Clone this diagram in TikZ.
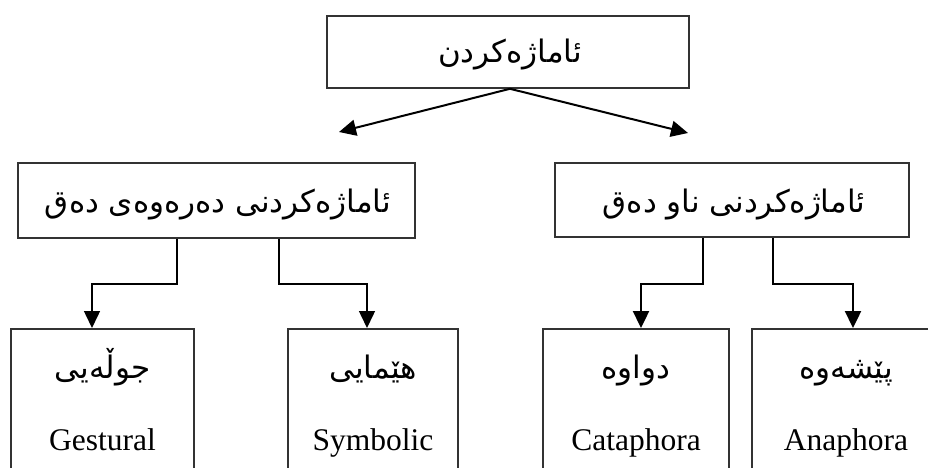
\documentclass[tikz,border=0pt]{standalone}
\usepackage{fontspec}
\setmainfont{Liberation Serif}
\newfontfamily\arabicfont[Script=Arabic]{DejaVu Sans}
\TeXXeTstate=1
\usetikzlibrary{arrows.meta,calc}
\tikzset{
  box/.style={draw=black!80, line width=1.6pt, inner sep=0pt},
  ar/.style={font=\arabicfont\fontsize{31}{35}\selectfont, inner sep=0pt},
  lat/.style={font=\fontsize{31.5}{35}\selectfont, inner sep=0pt, anchor=base},
  tip/.style={-{Triangle[width=16pt,length=17pt]}},
  thin conn/.style={tip, line width=1.5pt},
  thick conn/.style={tip, line width=2.4pt},
  diag/.style={tip, line width=2pt}
}
\begin{document}
\begin{tikzpicture}[x=1pt,y=-1pt]
\clip (0,0) rectangle (928,468);
\useasboundingbox (0,0) rectangle (928,468);
% top box
\node[box, minimum width=362pt, minimum height=72pt] (top) at (508,52) {};
\node[ar, anchor=base] (toptxt) at (510,63) {\beginR ئاماژەکردن\endR};
% middle boxes
\node[box, minimum width=397pt, minimum height=75pt] (lm) at (216.5,200.5) {};
\node[ar, anchor=base] (lmtxt) at (218,212) {\beginR ئاماژەکردنی دەرەوەی دەق\endR};
\node[box, minimum width=354pt, minimum height=74pt] (rm) at (732,200) {};
\node[ar, anchor=base] (rmtxt) at (734,212) {\beginR ئاماژەکردنی ناو دەق\endR};
% bottom boxes
\node[box, minimum width=183pt, minimum height=160pt, anchor=north] (b1) at (102.5,328) {};
\node[box, minimum width=170pt, minimum height=160pt, anchor=north] (b2) at (373,328) {};
\node[box, minimum width=186pt, minimum height=160pt, anchor=north] (b3) at (636,328) {};
\node[box, minimum width=188pt, minimum height=160pt, anchor=north] (b4) at (846,328) {};
\node[ar, anchor=base] (b1a) at ([yshift=-50pt]b1.north) {\beginR جوڵەیی\endR};
\node[ar, anchor=base] (b2a) at ([yshift=-50pt]b2.north) {\beginR هێمایی\endR};
\node[ar, anchor=base] (b3a) at ([yshift=-50pt]b3.north) {\beginR دواوە\endR};
\node[ar, anchor=base] (b4a) at ([yshift=-50pt]b4.north) {\beginR پێشەوە\endR};
\node[lat] (b1b) at ([yshift=-122pt]b1.north) {Gestural};
\node[lat] (b2b) at ([yshift=-122pt]b2.north) {Symbolic};
\node[lat] (b3b) at ([yshift=-122pt]b3.north) {Cataphora};
\node[lat] (b4b) at ([yshift=-122pt]b4.north) {Anaphora};
% top arrows
\coordinate (tl) at (339,132);
\coordinate (tr) at (688,133);
\draw[diag] ([xshift=2pt]top.south) -- (tl);
\draw[diag] ([xshift=2pt]top.south) -- (tr);
% left elbows
\draw[thin conn] ([xshift=-39.5pt]lm.south) -- ++(0,45) -| ([xshift=-10.5pt]b1.north);
\draw[thin conn] ([xshift=62.5pt]lm.south) -- ++(0,45) -| ([xshift=-6pt]b2.north);
% right elbows
\draw[thick conn] ([xshift=-29pt]rm.south) -- ++(0,46) -| ([xshift=5pt]b3.north);
\draw[thick conn] ([xshift=41pt]rm.south) -- ++(0,46) -| ([xshift=7pt]b4.north);
\end{tikzpicture}
\end{document}
